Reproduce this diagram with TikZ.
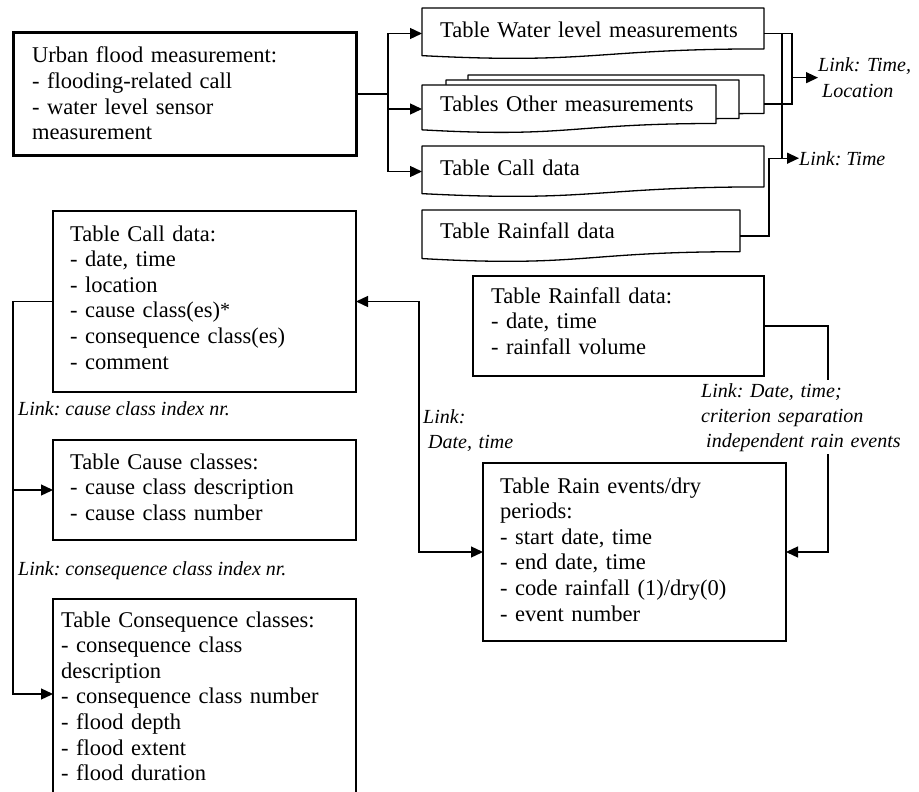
\documentclass[tikz,border=0pt]{standalone}
\usepackage{fontspec}
\setmainfont{Liberation Serif}
\usetikzlibrary{arrows.meta,calc}
\frenchspacing

% wavy "document" outline drawn around a (text-less) node
\newcommand\docshape[1]{%
  \draw[fill=white, line width=1.3pt, line join=round]
    let \p1=(#1.north west), \p2=(#1.south east),
        \n1={\y1-\y2}, \n2={(\x1+\x2)/2} in
    (\p1) -- (\x2,\y1) -- (\x2,\y1-0.802*\n1)
    .. controls (\n2,\y1-0.802*\n1) and (\n2,\y1-1.107*\n1) .. (\x1,\y1-0.934*\n1)
    -- cycle;}

\tikzset{
  conn/.style={line width=1.3pt},
  arr/.style={conn, -{Triangle[length=12pt,width=11pt]}},
  darr/.style={conn, {Triangle[length=12pt,width=11pt]}-{Triangle[length=12pt,width=11pt]}},
  box/.style={draw, line width=1.3pt, anchor=north west, inner sep=0pt, outer sep=0pt},
  doc/.style={anchor=north west, inner sep=0pt, outer sep=0pt},
  txt/.style={anchor=base west, inner sep=0pt, align=left, text width=300pt,
              font=\fontsize{22.5}{25.6}\selectfont\frenchspacing},
  lbl/.style={anchor=base west, inner xsep=0pt, inner ysep=3pt, align=left,
              font=\fontsize{20}{25}\selectfont\itshape\frenchspacing},
}

\begin{document}
\begin{tikzpicture}[x=1pt,y=-1pt]
\useasboundingbox (0,0) rectangle (919,792);

% source box
\node[box, line width=3pt, minimum width=343pt, minimum height=122pt] (urban) at (13,33) {};
\node[txt] (urbanT) at (32,63) {Urban flood measurement:\\- flooding-related call\\- water level sensor\\measurement};

% raw data tables
\node[doc, minimum width=342pt, minimum height=51pt] (wl)  at (422,8)   {};
\node[doc, minimum width=296pt, minimum height=48pt] (om3) at (468,75)  {};
\node[doc, minimum width=293pt, minimum height=48pt] (om2) at (446,80)  {};
\node[doc, minimum width=294pt, minimum height=48pt] (om1) at (422,85)  {};
\node[doc, minimum width=342pt, minimum height=51pt] (cd)  at (422,146) {};
\node[doc, minimum width=318pt, minimum height=52pt] (rf)  at (422,210) {};
\docshape{wl}
\docshape{om3}
\docshape{om2}
\docshape{om1}
\docshape{cd}
\docshape{rf}
\node[txt] (wlT) at (440,38)  {Table Water level measurements};
\node[txt] (omT) at (440,111) {Tables Other measurements};
\node[txt] (cdT) at (440,175) {Table Call data};
\node[txt] (rfT) at (440,238) {Table Rainfall data};

% fan-out from the source box
\coordinate (j1) at (388,94);
\draw[conn] (urban.east) -- (j1);
\draw[arr] (j1) |- (wl.west);
\draw[arr] (j1) |- (om1.west);
\draw[arr] (j1) |- (cd.west);

% link labels on the right
\node[lbl, text width=100pt] (lt1) at (818,72) {Link: Time,\\\hspace*{4pt}Location};
\node[lbl] (lt2) at (799,165) {Link: Time};

\coordinate (busA) at (792,0);
\coordinate (busB) at (782,0);
\coordinate (busC) at (769,0);
\coordinate (omr) at ([yshift=-5pt]om3.east);
\draw[conn] (wl.east) -| (busA |- omr) -- (omr);
\draw[arr] (busA |- lt1.west) -- (lt1.west);
\draw[conn] (busB |- wl.east) -- (busB |- lt2.west);
\draw[conn] (rf.east) -| (busC |- lt2.west);
\draw[arr] (busC |- lt2.west) -- (lt2.west);

% detailed tables
\node[box, minimum width=303pt, minimum height=181pt] (call) at (53,211) {};
\node[txt] (callT) at (70,241) {Table Call data:\\- date, time\\- location\\- cause class(es)\raisebox{1pt}{\fontsize{20}{20}\selectfont *}\\- consequence class(es)\\- comment};

\node[box, minimum width=303pt, minimum height=100pt] (cause) at (53,440) {};
\node[txt] (causeT) at (70,469) {Table Cause classes:\\- cause class description\\- cause class number};

\node[box, minimum width=303pt, minimum height=230pt] (cons) at (53,599) {};
\node[txt] (consT) at (61,627) {Table Consequence classes:\\- consequence class\\description\\- consequence class number\\- flood depth\\- flood extent\\- flood duration};

\node[box, minimum width=291pt, minimum height=100pt] (rfd) at (473,276) {};
\node[txt] (rfdT) at (491,303) {Table Rainfall data:\\- date, time\\- rainfall volume};

\node[box, minimum width=303pt, minimum height=178pt] (rev) at (483,463) {};
\node[txt] (revT) at (500,493) {Table Rain events/dry\\periods:\\- start date, time\\- end date, time\\- code rainfall (1)/dry(0)\\- event number};

% links between detailed tables
\coordinate (consin) at ([yshift=-95pt]cons.north west);
\coordinate (busL) at (13,0);
\draw[arr] (call.west) -| (busL |- consin) -- (consin);
\draw[arr] (busL |- cause.west) -- (cause.west);

\coordinate (busM) at (419,0);
\draw[darr] (call.east) -| (busM |- rev.west) -- (rev.west);

\coordinate (busR) at (828,0);
\draw[arr] (rfd.east) -| (busR |- rev.east) -- (rev.east);

\node[lbl] (lcause) at (18,415) {Link: cause class index nr.};
\node[lbl] (lcons) at (18,575) {Link: consequence class index nr.};
\node[lbl, text width=110pt] (ldt) at (423,423) {Link:\\\hspace*{5pt}Date, time};
\node[lbl, text width=200pt, fill=white] (lrain) at (701,397) {Link: Date, time;\\criterion separation\\\hspace*{5pt}\mbox{independent rain events}};

\end{tikzpicture}
\end{document}
